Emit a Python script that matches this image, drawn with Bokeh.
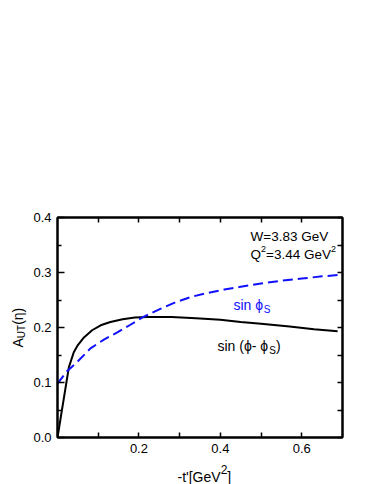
import math
from bokeh.plotting import figure
from bokeh.models import (Range1d, Label, LinearAxis, FixedTicker,
                          PrintfTickFormatter, CustomJSTickFormatter)
from bokeh.embed import file_html
from bokeh.resources import INLINE

# ---- data ----
t_sin_phi_minus_phis = [0.0, 0.012, 0.028, 0.04, 0.05, 0.065, 0.085, 0.106, 0.13,
                        0.16, 0.19, 0.22, 0.28, 0.34, 0.40, 0.45, 0.50, 0.57,
                        0.63, 0.688]
A_sin_phi_minus_phis = [0.0, 0.055, 0.128, 0.155, 0.168, 0.182, 0.195, 0.204, 0.210,
                        0.215, 0.218, 0.219, 0.219, 0.217, 0.214, 0.210, 0.207, 0.202,
                        0.197, 0.193]

t_sin_phis = [0.0, 0.024, 0.048, 0.081, 0.114, 0.147, 0.179, 0.21, 0.25, 0.29,
              0.33, 0.37, 0.41, 0.45, 0.50, 0.55, 0.60, 0.65, 0.70]
A_sin_phis = [0.098, 0.121, 0.137, 0.162, 0.178, 0.191, 0.205, 0.219, 0.233, 0.246,
              0.256, 0.263, 0.269, 0.274, 0.280, 0.285, 0.289, 0.293, 0.296]

x_major = [0.2, 0.4, 0.6]
x_minor = [0.1, 0.3, 0.5]
y_major = [0.0, 0.1, 0.2, 0.3, 0.4]
y_minor = [0.05, 0.15, 0.25, 0.35]

X0, X1 = 0.0, 0.7
Y0, Y1 = 0.0, 0.4

# ---- layout (page pixels; Bokeh's page template has no body margin) ----
W, H = 374, 484
FL, FR, FT, FB = 57, 342, 217, 437   # frame edges
FONT = "Liberation Sans"
BLUE = "#1010ff"

p = figure(width=W, height=H, output_backend="svg", toolbar_location=None,
           x_range=Range1d(X0, X1), y_range=Range1d(Y0, Y1),
           min_border_left=FL, min_border_right=W - FR,
           min_border_top=FT, min_border_bottom=H - FB,
           x_axis_type=None, y_axis_type=None)
p.xgrid.visible = False
p.ygrid.visible = False
p.outline_line_color = "black"
p.outline_line_width = 2
p.background_fill_color = "white"
p.border_fill_color = "white"

empty = CustomJSTickFormatter(code="return ''")


def make_axis(ticks, minor, labels, maj_in, min_in):
    ax = LinearAxis(ticker=FixedTicker(ticks=ticks, minor_ticks=minor),
                    axis_line_color="black", axis_line_width=2,
                    major_tick_in=maj_in, major_tick_out=0,
                    minor_tick_in=min_in, minor_tick_out=0,
                    major_tick_line_width=1.5, minor_tick_line_width=1.5,
                    major_tick_line_color="black", minor_tick_line_color="black")
    if labels:
        ax.formatter = PrintfTickFormatter(format="%.1f")
        ax.major_label_text_font = FONT
        ax.major_label_text_font_size = "13px"
        ax.major_label_text_color = "black"
        ax.major_label_standoff = 6
    else:
        ax.formatter = empty
        ax.major_label_standoff = 0
    return ax


p.add_layout(make_axis(x_major, x_minor, True, 5, 5), "below")
p.add_layout(make_axis(x_major, x_minor, False, 5, 5), "above")
p.add_layout(make_axis(y_major, y_minor, True, 7, 4), "left")
p.add_layout(make_axis(y_major, y_minor, False, 5, 5), "right")

# ---- curves ----
p.line(t_sin_phi_minus_phis, A_sin_phi_minus_phis, line_color="black", line_width=2)
p.line(t_sin_phis, A_sin_phis, line_color=BLUE, line_width=2, line_dash="10 5")

# ---- text annotations ----
ARIAL = {' ': 278, '-': 333, '(': 333, ')': 333, '[': 278, ']': 278, "'": 191,
         '=': 584, '.': 278, 'A': 667, 'G': 778, 'Q': 778, 'S': 667, 'T': 611,
         'U': 722, 'V': 667, 'W': 944, 'e': 556, 'i': 222, 'n': 556, 's': 500,
         't': 278, 'ϕ': 600, 'η': 556}


def width(text, size):
    return sum(ARIAL.get(c, 556) for c in text) * size / 1000.0


def to_data(px, py):
    x = X0 + (px - FL) * (X1 - X0) / (FR - FL)
    y = Y0 + (FB - py) * (Y1 - Y0) / (FB - FT)
    return x, y


def put(text, px, py, size, color, angle=0.0, side="center"):
    x, y = to_data(px, py)
    lab = Label(x=x, y=y, text=text, text_font=FONT,
                text_font_size=f"{size}px", text_color=color,
                text_align="left", text_baseline="alphabetic", angle=angle)
    p.add_layout(lab, side)


def run(parts, px, py, color="black", vertical=False, side="center"):
    for text, size, shift in parts:
        if vertical:
            put(text, px - shift, py, size, color, angle=math.pi / 2, side=side)
            py -= width(text, size)
        else:
            put(text, px, py - shift, size, color, side=side)
            px += width(text, size)


run([("W=3.83 GeV", 13.5, 0)], 250, 236)
run([("Q", 13.5, 0), ("2", 9, 6), ("=3.44 GeV", 13.5, 0), ("2", 9, 6)], 250, 254)
run([("sin ϕ", 14, 0), ("S", 10, -5)], 233, 304, color=BLUE)
run([("sin (ϕ- ϕ", 14, 0), ("S", 10, -5), (")", 14, 0)], 217, 345)
# axis titles are hosted in the (roomy) top side panel so that they are not
# clipped to the frame; their position still comes from the data scales
run([("A", 14, 0), ("UT", 10, -4), ("(η)", 14, 0)], 17, 347, vertical=True, side="above")
run([("-t'[GeV", 14, 0), ("2", 12, 7), ("]", 14, 0)], 177, 476, side="above")

open("out.html", "w").write(file_html(p, INLINE))
